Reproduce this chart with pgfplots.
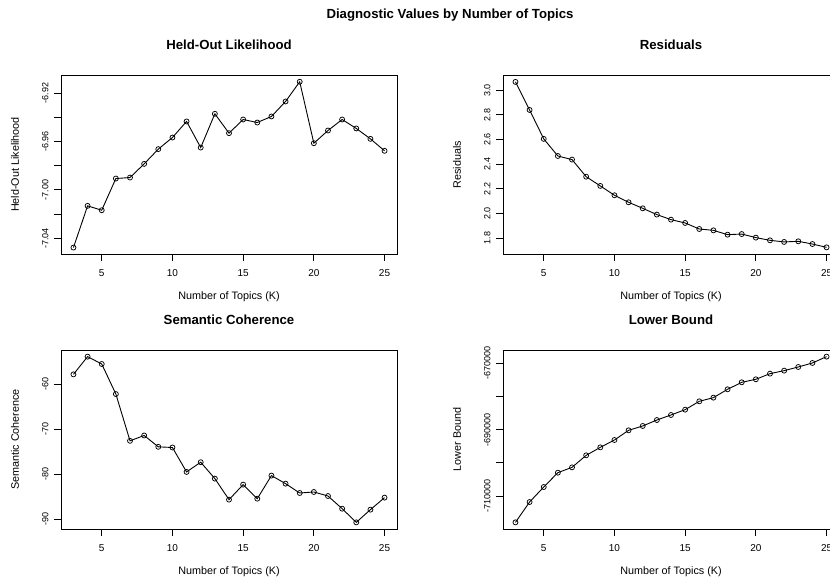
\documentclass[border=0pt]{standalone}
\usepackage{fontspec}
\setmainfont{Liberation Sans}
\usepackage{pgfplots}
\pgfplotsset{compat=1.18}
\begin{document}
\begin{tikzpicture}[x=1pt,y=1pt]
\pgfplotsset{
  rline/.style={black, line width=0.9pt, mark=o, mark size=2.5pt, mark options={black, line width=0.75pt, fill=none}},
  rbase/.style={
    scale only axis, width=336pt, height=179pt,
    xmin=2.12, xmax=25.88,
    axis line style={line width=0.8pt},
    tick align=outside, major tick length=7pt,
    xtick pos=bottom, ytick pos=left,
    tick style={black, line width=0.8pt},
    xtick={5,10,15,20,25}, xticklabels={5,10,15,20,25},
    xticklabel style={anchor=center, yshift=-11.7pt, font=\fontsize{10}{12}\selectfont},
    yticklabel style={rotate=90, anchor=center, yshift=8.7pt, font=\fontsize{9}{11}\selectfont},
    title style={at={(axis description cs:0.5,1.134)}, anchor=center, font=\bfseries\fontsize{13.2}{15}\selectfont},
    xlabel style={at={(axis description cs:0.5,-0.2385)}, anchor=center, font=\fontsize{10.8}{13}\selectfont},
    ylabel style={at={(axis description cs:-0.137,0.5)}, anchor=center, rotate=0, font=\fontsize{10.8}{13}\selectfont},
    xlabel={Number of Topics (K)},
  }
}
% Held-Out Likelihood
\begin{axis}[rbase, at={(61pt,326pt)}, anchor=south west,
  ymin=-7.053, ymax=-6.905,
  ytick={-7.04,-7.02,-7.00,-6.98,-6.96,-6.94,-6.92},
  yticklabels={-7.04,,-7.00,,-6.96,,-6.92},
  title={Held-Out Likelihood}, ylabel={Held-Out Likelihood}]
\addplot[rline] coordinates {(3,-7.0477)(4,-7.0132)(5,-7.0168)(6,-6.9906)(7,-6.9898)(8,-6.9785)(9,-6.9663)(10,-6.9567)(11,-6.9434)(12,-6.9650)(13,-6.9371)(14,-6.9531)(15,-6.9418)(16,-6.9443)(17,-6.9393)(18,-6.9269)(19,-6.9106)(20,-6.9614)(21,-6.9509)(22,-6.9418)(23,-6.9492)(24,-6.9578)(25,-6.9677)};
\end{axis}
% Residuals
\begin{axis}[rbase, at={(503pt,326pt)}, anchor=south west,
  ymin=1.670, ymax=3.124,
  ytick={1.8,2.0,2.2,2.4,2.6,2.8,3.0},
  yticklabels={1.8,2.0,2.2,2.4,2.6,2.8,3.0},
  title={Residuals}, ylabel={Residuals}]
\addplot[rline] coordinates {(3,3.068)(4,2.840)(5,2.605)(6,2.466)(7,2.437)(8,2.298)(9,2.223)(10,2.147)(11,2.090)(12,2.041)(13,1.990)(14,1.949)(15,1.922)(16,1.873)(17,1.862)(18,1.827)(19,1.832)(20,1.803)(21,1.781)(22,1.768)(23,1.773)(24,1.751)(25,1.724)};
\end{axis}
% Semantic Coherence
\begin{axis}[rbase, at={(61pt,51pt)}, anchor=south west,
  ymin=-92.23, ymax=-52.34,
  ytick={-90,-80,-70,-60},
  yticklabels={-90,-80,-70,-60},
  title={Semantic Coherence}, ylabel={Semantic Coherence}]
\addplot[rline] coordinates {(3,-57.77)(4,-53.82)(5,-55.46)(6,-62.16)(7,-72.58)(8,-71.39)(9,-73.92)(10,-74.07)(11,-79.51)(12,-77.35)(13,-81.00)(14,-85.69)(15,-82.34)(16,-85.47)(17,-80.33)(18,-82.12)(19,-84.21)(20,-83.98)(21,-84.88)(22,-87.70)(23,-90.75)(24,-87.92)(25,-85.24)};
\end{axis}
% Lower Bound
\begin{axis}[rbase, at={(503pt,51pt)}, anchor=south west,
  ymin=-719940, ymax=-665990,
  scaled y ticks=false,
  ytick={-710000,-700000,-690000,-680000,-670000},
  yticklabels={-710000,,-690000,,-670000},
  title={Lower Bound}, ylabel={Lower Bound}]
\addplot[rline] coordinates {(3,-717940)(4,-711810)(5,-707290)(6,-702960)(7,-701360)(8,-697740)(9,-695330)(10,-693120)(11,-690200)(12,-688890)(13,-687090)(14,-685580)(15,-683970)(16,-681460)(17,-680350)(18,-677840)(19,-675730)(20,-674820)(21,-673120)(22,-672210)(23,-671110)(24,-669900)(25,-667990)};
\end{axis}
\node[font=\bfseries\fontsize{13.2}{15}\selectfont] at (450,565) {Diagnostic Values by Number of Topics};
\pgfresetboundingbox
\path[use as bounding box] (0,0) rectangle (830,580);
\end{tikzpicture}
\end{document}
